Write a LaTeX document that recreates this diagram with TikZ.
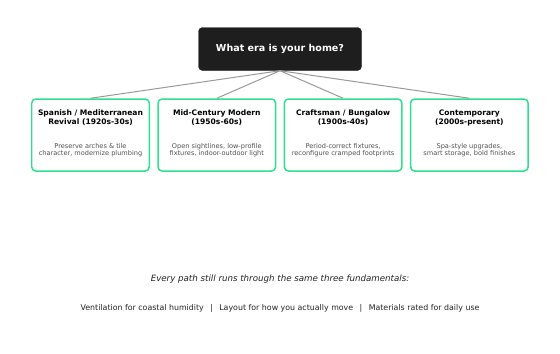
\documentclass[tikz,border=0pt]{standalone}
\usepackage{fontspec}
\setmainfont{DejaVu Sans}
\usetikzlibrary{positioning}
\definecolor{Ink}{HTML}{1E1E1E}
\definecolor{Edge}{HTML}{999999}
\definecolor{Mint}{HTML}{2EE08E}
\definecolor{Body}{HTML}{505050}
\definecolor{Note}{HTML}{222222}
\tikzset{
  question/.style={draw=Ink,fill=Ink,rounded corners=4bp,minimum width=163bp,minimum height=43bp,text=white,font=\fontsize{9.6}{11}\selectfont\bfseries},
  era/.style={draw=Mint,fill=white,line width=1.5pt,rounded corners=4bp,minimum width=117.5bp,minimum height=72bp},
  eratitle/.style={align=center,font=\fontsize{7.6}{9}\selectfont\bfseries,text=black},
  eranote/.style={align=center,font=\fontsize{6.6}{7.6}\selectfont,text=Body},
  branch/.style={draw=Edge,line width=1pt}
}
\begin{document}
\begin{tikzpicture}[x=1bp,y=-1bp,node distance=7.3bp]
  \useasboundingbox (0,0) rectangle (560,353);
  \node[question] (root) at (280,49) {What era is your home?};
  \node[era] (spanish) at (90.5,135) {};
  \node[era,right=of spanish] (midcentury) {};
  \node[era,right=of midcentury] (craftsman) {};
  \node[era,right=of craftsman] (contemporary) {};
  % titles and notes
  \foreach \n/\t/\d in {spanish/{Spanish / Mediterranean\\Revival (1920s-30s)}/{Preserve arches \& tile\\character, modernize plumbing},
      midcentury/{Mid-Century Modern\\(1950s-60s)}/{Open sightlines, low-profile\\fixtures, indoor-outdoor light},
      craftsman/{Craftsman / Bungalow\\(1900s-40s)}/{Period-correct fixtures,\\reconfigure cramped footprints},
      contemporary/{Contemporary\\(2000s-present)}/{Spa-style upgrades,\\smart storage, bold finishes}} {
    \node[eratitle,below=8bp of \n.north] (\n-title) {\t};
    \node[eranote,above=11bp of \n.south] (\n-note) {\d};
    \draw[branch] (root.south) -- (\n.north);
  }
  \node[font=\fontsize{8.7}{10}\selectfont\itshape,text=Note] (fundamentals) at (280,279) {Every path still runs through the same three fundamentals:};
  \node[font=\fontsize{7.9}{10}\selectfont,text=Note] (pillars) at (280,308) {Ventilation for coastal humidity \enspace | \enspace Layout for how you actually move \enspace | \enspace Materials rated for daily use};
\end{tikzpicture}
\end{document}
